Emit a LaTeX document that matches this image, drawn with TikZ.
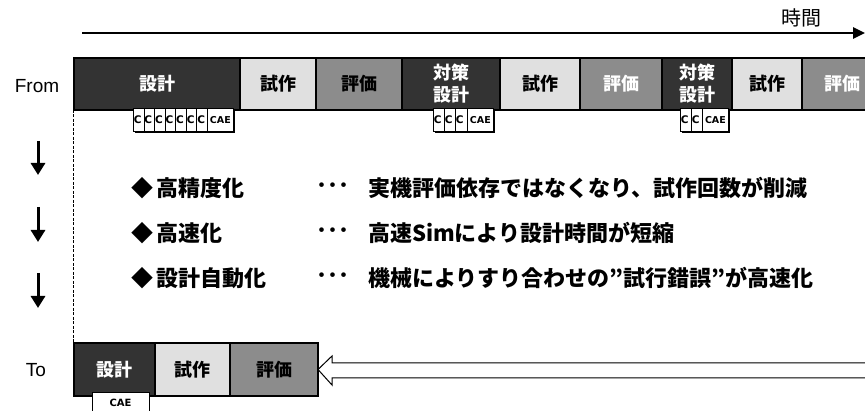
\documentclass[tikz,border=0pt]{standalone}
\usepackage{fontspec}
\setmainfont{Liberation Sans}
\newfontfamily\jp{Noto Sans CJK JP}
\newfontfamily\cardfont{DejaVu Sans}
\usetikzlibrary{arrows.meta,shadows}
\begin{document}
\begin{tikzpicture}[x=1pt,y=-1pt,
  stg/.style={draw=black,line width=1.2pt,anchor=north west,inner sep=0pt,outer sep=0pt,
    font=\jp\bfseries\fontsize{18}{22}\selectfont,align=center},
  dk/.style={stg,fill=black!80,text=white},
  lt/.style={stg,fill=black!12,text=black},
  md/.style={stg,fill=black!45,text=black},
  mdw/.style={stg,fill=black!45,text=white},
  card/.style={draw=black,line width=0.8pt,fill=white,anchor=north west,inner sep=0pt,
    minimum height=23pt,text width=24pt,align=left,
    font=\cardfont\bfseries\fontsize{10.5}{11}\selectfont,
    drop shadow={shadow xshift=1.6pt,shadow yshift=-1.6pt,fill=black,opacity=1}},
  caecard/.style={card,text width=26pt,align=center,font=\cardfont\bfseries\fontsize{9.5}{10}\selectfont},
  lbl/.style={font=\fontsize{19}{21}\selectfont},
  mtxt/.style={anchor=west,inner sep=0pt,font=\jp\bfseries\fontsize{22}{24}\selectfont},
  downarr/.style={line width=3pt,-{Triangle[width=14pt,length=12pt]}},
]
\useasboundingbox (0,0) rectangle (865,411);
\clip (0,0) rectangle (865,411);

% time axis
\coordinate (t0) at (82,33);
\coordinate (t1) at (865,33);
\draw[line width=2.6pt,-{Triangle[width=11pt,length=12pt]}] (t0) -- (t1);
\node[font=\jp\fontsize{20}{22}\selectfont] (time) at (801,18) {時間};

% From row
\node[lbl] (from) at (37,86) {From};
\node[dk,minimum width=166pt,minimum height=52pt] (f1) at (74,58) {設計};
\node[lt,minimum width=76pt,minimum height=52pt] (f2) at (240,58) {試作};
\node[md,minimum width=86pt,minimum height=52pt] (f3) at (316,58) {評価};
\node[dk,minimum width=98pt,minimum height=52pt] (f4) at (402,58) {対策\\設計};
\node[lt,minimum width=80pt,minimum height=52pt] (f5) at (500,58) {試作};
\node[mdw,minimum width=82pt,minimum height=52pt] (f6) at (580,58) {評価};
\node[dk,minimum width=70pt,minimum height=52pt] (f7) at (662,58) {対策\\設計};
\node[lt,minimum width=70pt,minimum height=52pt] (f8) at (732,58) {試作};
\node[mdw,minimum width=80pt,minimum height=52pt] (f9) at (802,58) {評価};

% CAE strips
\foreach \i in {0,...,6} {
  \node[card] (ca\i) at ({133+10.57*\i},108) {\hspace{0.5pt}C};
}
\node[caecard] (cae1) at (207,108) {CAE};
\foreach \i/\x in {0/433,1/444,2/455} {
  \node[card] (cb\i) at (\x,108) {\hspace{0.5pt}C};
}
\node[caecard] (cae2) at (467,108) {CAE};
\foreach \i/\x in {0/680,1/691} {
  \node[card] (cc\i) at (\x,108) {\hspace{0.5pt}C};
}
\node[caecard] (cae3) at (702,108) {CAE};

% dashed divider
\coordinate (d0) at (73,110);
\coordinate (d1) at (73,343);
\draw[line width=0.8pt,dash pattern=on 3pt off 1.5pt] (d0) -- (d1);

% down arrows
\foreach \n/\a/\b in {1/141/175,2/207/242,3/273/308} {
  \coordinate (da\n) at (38,\a);
  \coordinate (db\n) at (38,\b);
  \draw[downarr] (da\n) -- (db\n);
}

% main text
\node[mtxt] (k1) at (131,188) {◆\hspace{3pt}高精度化};
\node[mtxt] (k2) at (131,233) {◆\hspace{3pt}高速化};
\node[mtxt] (k3) at (131,278) {◆\hspace{3pt}設計自動化};
\node[mtxt] (e1) at (316,188) {･･･};
\node[mtxt] (e2) at (316,233) {･･･};
\node[mtxt] (e3) at (316,278) {･･･};
\node[mtxt] (v1) at (368,188) {実機評価依存ではなくなり、試作回数が削減};
\node[mtxt] (v2) at (368,233) {高速Simにより設計時間が短縮};
\node[mtxt] (v3) at (368,278) {機械によりすり合わせの”試行錯誤”が高速化};

% To row
\node[lbl] (to) at (36,370) {To};
\node[dk,minimum width=81pt,minimum height=53pt] (g1) at (74,343) {設計};
\node[lt,minimum width=75pt,minimum height=53pt] (g2) at (155,343) {試作};
\node[md,minimum width=88pt,minimum height=53pt] (g3) at (230,343) {評価};
\node[draw=black,line width=0.8pt,fill=white,anchor=north west,inner sep=0pt,
  minimum width=57pt,minimum height=26pt] (cae4) at (92,392) {};
\node[font=\cardfont\bfseries\fontsize{10}{11}\selectfont] (cae4t) at (120.5,403) {CAE};

% hollow arrow
\draw[line width=1pt,fill=white] (865,363) -- (332,363) -- (332,356) -- (g3.east) -- (332,385) -- (332,378) -- (865,378);
\end{tikzpicture}
\end{document}
